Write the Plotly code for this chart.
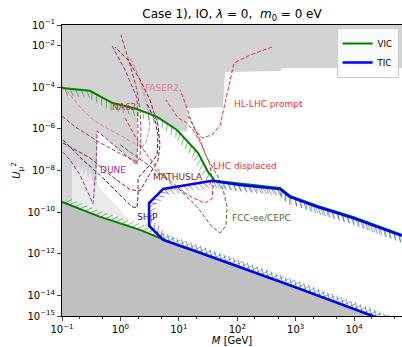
import numpy as np
import plotly.graph_objects as go

# Axis ranges in log10 units
X_RANGE = [-1.0, 4.82]
Y_RANGE = [-15.0, -1.0]

# ---- shaded regions ----
allowed_M = [0.40, 1.92, 1.92, 4.24, 9.3, 13.8, 13.8, 57, 62, 540, 580, 7e4, 7e4, 1.2, 1.2, 0.40]
allowed_U2 = [7.9e-7, 1.9e-8, 1.2e-5, 3.8e-6, 8.9e-7, 7.2e-7, 1.0e-5, 1.15e-5, 5.5e-4, 6.2e-4, 8.5e-4,
              8.5e-4, 1e-16, 1e-16, 6.6e-11, 2.0e-9]

bbn_M = [0.148, 0.148, 0.16, 0.174, 0.188, 0.203, 0.22, 0.238, 0.258, 0.279, 0.30, 0.34, 0.40, 1.2, 1.40, 0.45]
bbn_U2 = [2.0e-10, 1.3e-8, 2.3e-8, 8.5e-9, 2.6e-8, 6.2e-9, 1.9e-8, 4.9e-9, 1.5e-8, 3.5e-9, 1.07e-8, 2.5e-9,
          2.0e-9, 6.6e-11, 1.95e-11, 5.9e-11]

# ---- seesaw (lower) line, VIC upper line, TIC contour ----
seesaw_M = [0.1, 0.45, 2.17, 9.3, 23, 1000, 2.1e4, 6.6e4]
seesaw_U2 = [3.1e-10, 5.9e-11, 1.4e-11, 2.6e-12, 1.1e-12, 2.4e-14, 1e-15, 3.0e-16]

vic_M = [0.1, 0.30, 0.72, 1.92, 4.24, 9.3, 21.3, 31.6, 41.7, 112, 540, 800, 2320, 9600, 3.1e4, 6.6e4]
vic_U2 = [9.3e-5, 6.8e-5, 1.8e-5, 9.1e-6, 3.8e-6, 8.9e-7, 7.1e-8, 8.5e-9, 3.2e-9, 2.3e-9, 1.45e-9,
          6.0e-10, 2.0e-10, 5.9e-11, 1.7e-11, 8.0e-12]

tic_M = [6.6e4, 2.1e4, 1000, 23, 5.4, 3.09, 3.09, 5.4, 23, 37, 112, 540, 800, 2320, 9600, 3.1e4, 6.6e4]
tic_U2 = [3.0e-16, 1e-15, 2.4e-14, 1.1e-12, 4.6e-12, 2.2e-11, 2.7e-10, 1.3e-9, 2.5e-9, 3.2e-9, 2.0e-9,
          1.3e-9, 5.4e-10, 1.8e-10, 5.2e-11, 1.6e-11, 7.2e-12]

# ---- experimental sensitivities ----
faser2_M = [0.104, 0.203, 0.34, 0.66, 1.2, 1.92, 2.34, 2.85, 3.2, 2.97, 2.44, 1.92, 1.46]
faser2_U2 = [1.17e-4, 1.15e-5, 2.7e-6, 8.9e-7, 3.7e-7, 1.7e-7, 1.2e-7, 3.0e-7, 1.55e-6, 8.1e-6, 7.5e-5,
             5.5e-4, 2.6e-3]

na62_M = [0.1, 0.167, 0.248, 0.40, 0.875, 1.92, 2.17, 2.25, 2.17, 1.92, 1.46, 1.02]
na62_U2 = [4.2e-6, 1.26e-6, 6.4e-7, 2.6e-7, 7.8e-8, 2.6e-8, 4.1e-8, 8.9e-7, 8.1e-6, 7.5e-5, 1.2e-3, 3.3e-2]

mathusla_M = [0.104, 0.30, 0.66, 1.46, 2.17, 2.64, 3.48, 4.4, 4.76, 4.4, 3.2, 2.17, 1.35, 0.81]
mathusla_U2 = [2.1e-7, 4.1e-8, 6.2e-9, 1.2e-9, 1.05e-9, 2.8e-9, 1.07e-8, 3.2e-8, 1.7e-7, 1.55e-6, 2.5e-5,
               2.3e-4, 2.1e-3, 8.7e-3]

ship_M = [0.104, 0.229, 0.50, 1.0, 1.58, 1.92, 2.0, 2.0, 2.44, 3.2, 4.24, 4.4, 3.9, 2.85]
ship_U2 = [3.0e-7, 3.2e-8, 4.4e-9, 6.7e-10, 1.8e-10, 1.6e-10, 5.4e-10, 4.4e-9, 8.5e-9, 1.9e-8, 5.6e-8,
           5.1e-7, 2.7e-6, 1.6e-5]

dune_M = [0.72, 1.2, 1.92, 2.0, 1.92, 0.875, 0.40, 0.38, 0.34, 0.203, 0.137, 0.104]
dune_U2 = [9.8e-3, 6.9e-4, 3.1e-5, 8.9e-7, 1.9e-8, 1.2e-7, 7.9e-7, 1.07e-8, 2.5e-10, 6.2e-9, 3.2e-8, 7.8e-8]

hllhc_M = [394, 166, 88, 72, 62, 51, 37, 25, 18.9, 15.6, 12.8, 10.5]
hllhc_U2 = [8.7e-3, 3.6e-3, 1.5e-3, 1.3e-4, 1.8e-5, 1.55e-6, 5.1e-7, 3.7e-7, 8.9e-7, 3.4e-6, 1.8e-5, 7.5e-5]

lhcdv_M = [1.2, 1.92, 2.85, 4.76, 7.96, 17.5, 28, 37, 38.5, 34, 30.4, 23, 17.5, 12.8, 9.7, 7.07, 6.0]
lhcdv_U2 = [3.4e-6, 3.0e-7, 5.6e-8, 8.5e-9, 1.8e-9, 4.8e-10, 2.7e-10, 4.3e-10, 2.0e-9, 1.9e-8, 4.1e-8,
            2.4e-7, 8.9e-7, 2.2e-6, 3.4e-6, 1.3e-5, 2.5e-5]

fcc_M = [1.0, 2.64, 7.96, 20.5, 37, 51, 64, 67, 57, 47, 37, 30.4, 23, 17.5, 13.8]
fcc_U2 = [1.7e-7, 2.3e-8, 2.5e-9, 1.8e-10, 1.95e-11, 1.0e-11, 2.2e-11, 1.8e-10, 1.2e-9, 4.9e-9, 1.5e-8,
          4.1e-8, 3.0e-7, 1.55e-6, 4.7e-6]

# label texts with anchor points (M, U2) and colours
labels = ["FASER2", "NA62", "DUNE", "MATHUSLA", "SHiP", "HL-LHC prompt", "LHC displaced", "FCC-ee/CEPC"]
label_M = [2.4, 0.66, 0.41, 3.3, 1.8, 82, 36, 76]
label_U2 = [9.0e-5, 1.2e-5, 1.1e-8, 4.8e-9, 6.0e-11, 1.5e-5, 1.6e-8, 5.0e-11]

C_FASER = "#e27c98"
C_NA62 = "#b03c3c"
C_MATH = "#8b1a1a"
C_SHIP = "#20209a"
C_DUNE = "#a02ca0"
C_LHC = "#ff2a2a"
C_FCC = "#556b2f"
label_colors = [C_FASER, C_NA62, C_DUNE, C_MATH, C_SHIP, C_LHC, C_LHC, C_FCC]

# plot area in pixels (used to lay hatch ticks along curves)
W_PX, H_PX = 340, 291


def to_px(m, u):
    px = (np.log10(m) - X_RANGE[0]) / (X_RANGE[1] - X_RANGE[0]) * W_PX
    py = (Y_RANGE[1] - np.log10(u)) / (Y_RANGE[1] - Y_RANGE[0]) * H_PX
    return px, py


def from_px(px, py):
    m = 10 ** (X_RANGE[0] + px / W_PX * (X_RANGE[1] - X_RANGE[0]))
    u = 10 ** (Y_RANGE[1] - py / H_PX * (Y_RANGE[1] - Y_RANGE[0]))
    return m, u


def hatch_ticks(m, u, angle_deg, spacing=5.0, length=7.0):
    """Short ticks along a curve, like a ticked stroke (angle relative to the walking direction)."""
    px, py = to_px(np.asarray(m, float), np.asarray(u, float))
    dx, dy = np.diff(px), np.diff(py)
    seg = np.hypot(dx, dy)
    cum = np.concatenate([[0], np.cumsum(seg)])
    a = np.deg2rad(angle_deg)
    xs, ys = [], []
    for s in np.arange(spacing / 2, cum[-1], spacing):
        i = min(max(np.searchsorted(cum, s) - 1, 0), len(seg) - 1)
        f = (s - cum[i]) / seg[i]
        x0, y0 = px[i] + f * dx[i], py[i] + f * dy[i]
        tx, ty = dx[i] / seg[i], dy[i] / seg[i]
        lx, ly = ty, -tx
        ddx = np.cos(a) * tx + np.sin(a) * lx
        ddy = np.cos(a) * ty + np.sin(a) * ly
        m0, u0 = from_px(x0, y0)
        m1, u1 = from_px(x0 + length * ddx, y0 + length * ddy)
        xs += [m0, m1, None]
        ys += [u0, u1, None]
    return xs, ys


fig = go.Figure()

# allowed (white) region over the excluded grey background
fig.add_trace(go.Scatter(x=allowed_M, y=allowed_U2, fill="toself", fillcolor="white",
                         mode="none", hoverinfo="skip", showlegend=False))
fig.add_trace(go.Scatter(x=bbn_M, y=bbn_U2, fill="toself", fillcolor="#ebebeb",
                         mode="none", hoverinfo="skip", showlegend=False))
# below the seesaw line
fig.add_trace(go.Scatter(x=seesaw_M + [6.6e4, 0.1], y=seesaw_U2 + [1e-17, 1e-17], fill="toself",
                         fillcolor="#c0c0c0", mode="none", hoverinfo="skip", showlegend=False))

# experimental dashed curves
dashed = [
    (faser2_M, faser2_U2, C_FASER),
    (na62_M, na62_U2, C_NA62),
    (mathusla_M, mathusla_U2, C_MATH),
    (ship_M, ship_U2, C_SHIP),
    (dune_M, dune_U2, C_DUNE),
    (hllhc_M, hllhc_U2, C_LHC),
    (lhcdv_M, lhcdv_U2, C_LHC),
    (fcc_M, fcc_U2, C_FCC),
]
for xm, yu, col in dashed:
    fig.add_trace(go.Scatter(x=xm, y=yu, mode="lines", showlegend=False, hoverinfo="skip",
                             line=dict(color=col, width=1, dash="4px,2px")))

# hatching on the allowed side of each boundary
GREEN_T = "rgba(0,128,0,0.5)"
BLUE_T = "rgba(0,0,255,0.45)"
hx, hy = hatch_ticks(vic_M, vic_U2, -62, 5.5, 8)
fig.add_trace(go.Scatter(x=hx, y=hy, mode="lines", line=dict(color=GREEN_T, width=1.0),
                         showlegend=False, hoverinfo="skip"))
hx, hy = hatch_ticks(seesaw_M, seesaw_U2, 45, 5.5, 8)
fig.add_trace(go.Scatter(x=hx, y=hy, mode="lines", line=dict(color=GREEN_T, width=1.0),
                         showlegend=False, hoverinfo="skip"))
hx, hy = hatch_ticks(tic_M, tic_U2, -55, 5.0, 8)
fig.add_trace(go.Scatter(x=hx, y=hy, mode="lines", line=dict(color=BLUE_T, width=1.0),
                         showlegend=False, hoverinfo="skip"))

# boundary lines
fig.add_trace(go.Scatter(x=seesaw_M, y=seesaw_U2, mode="lines", line=dict(color="green", width=2),
                         showlegend=False, hoverinfo="skip"))
fig.add_trace(go.Scatter(x=vic_M, y=vic_U2, mode="lines", line=dict(color="green", width=2),
                         name="VIC"))
fig.add_trace(go.Scatter(x=tic_M, y=tic_U2, mode="lines", line=dict(color="blue", width=2.5),
                         name="TIC"))

for t, xm, yu, col in zip(labels, label_M, label_U2, label_colors):
    fig.add_annotation(x=np.log10(xm), y=np.log10(yu), text=t, showarrow=False,
                       xanchor="left", yanchor="middle", font=dict(size=9, color=col))

FONT = "DejaVu Sans, Arial, sans-serif"
yt = [-1, -2, -4, -6, -8, -10, -12, -14, -15]
fig.update_layout(
    width=402, height=347,
    margin=dict(l=62, r=0, t=25, b=31),
    paper_bgcolor="white", plot_bgcolor="#d3d3d3",
    font=dict(family=FONT, size=10, color="black"),
    title=dict(text="Case 1), IO, <i>λ</i> = 0,  <i>m</i><sub>0</sub> = 0 eV", x=232 / 402,
               xanchor="center", y=1 - 14 / 347, yanchor="middle", font=dict(size=12)),
    legend=dict(x=0.99, y=0.99, xanchor="right", yanchor="top", bgcolor="rgba(255,255,255,0.85)",
                bordercolor="#cccccc", borderwidth=1, font=dict(size=8.5), itemwidth=30,
                tracegroupgap=0),
    showlegend=True,
)
fig.update_xaxes(type="log", range=X_RANGE, showgrid=False, zeroline=False, showline=True,
                 linecolor="black", linewidth=1, mirror=True, ticks="outside", ticklen=4,
                 tickvals=[0.1, 1, 10, 100, 1000, 1e4],
                 ticktext=["10<sup>−1</sup>", "10<sup>0</sup>", "10<sup>1</sup>", "10<sup>2</sup>",
                           "10<sup>3</sup>", "10<sup>4</sup>"],
                 minor=dict(ticks="outside", ticklen=2, showgrid=False),
                 title=dict(text="<i>M</i> [GeV]", standoff=2, font=dict(size=10)))
fig.update_yaxes(type="log", range=Y_RANGE, showgrid=False, zeroline=False, showline=True,
                 linecolor="black", linewidth=1, mirror=True, ticks="outside", ticklen=4,
                 tickvals=[10.0 ** k for k in yt],
                 ticktext=["10<sup>−%d</sup>" % (-k) for k in yt],
                 title=dict(text="<i>U</i><sub>μ</sub><sup>2</sup>", standoff=4, font=dict(size=10)))

fig.write_html("out.html")
